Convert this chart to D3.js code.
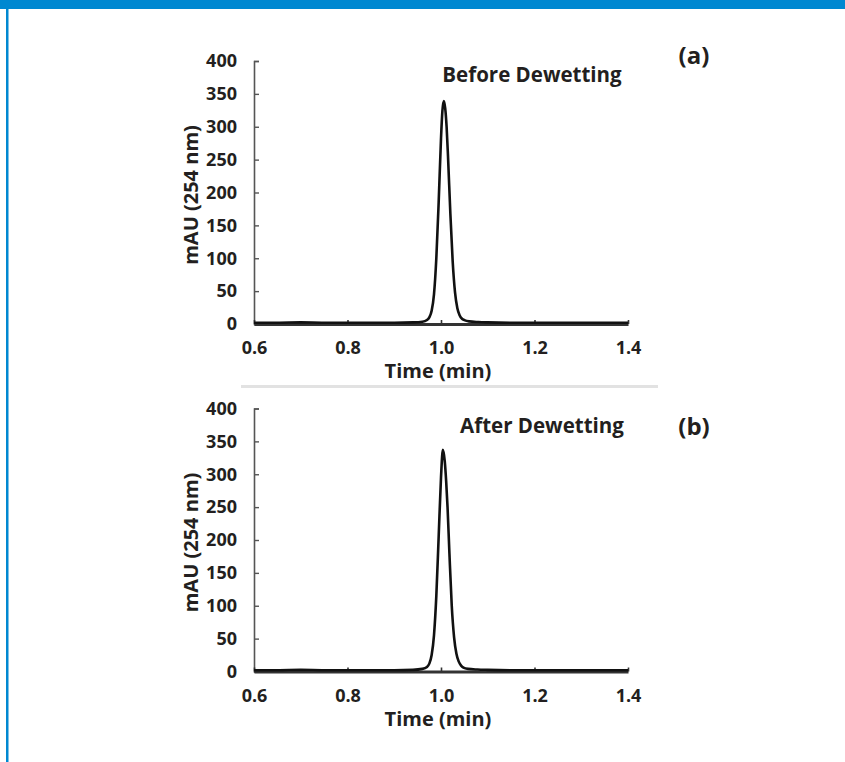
<!DOCTYPE html>
<html>
<head>
<meta charset="utf-8">
<script src="https://cdn.jsdelivr.net/npm/d3@7"></script>
<style>
  body { margin: 0; background: #fff; }
  svg { display: block; }
  text { font-family: "Open Sans", sans-serif; font-weight: bold; fill: #231f20; }
</style>
</head>
<body>
<svg id="chart" width="845" height="762"></svg>
<script>
// chromatogram before dewetting
let timeA = [0.60, 0.65, 0.70, 0.75, 0.80, 0.85, 0.90, 0.94, 0.96, 0.97, 0.975, 0.98, 0.985, 0.99, 0.995,
             1.000, 1.003, 1.006, 1.009, 1.012, 1.015, 1.020, 1.025, 1.030, 1.035, 1.040, 1.045, 1.050,
             1.060, 1.080, 1.100, 1.150, 1.200, 1.300, 1.400];
let mauA = [2, 2, 2.5, 2, 2, 2, 2, 2.5, 3.5, 6, 10, 20, 45, 100, 185,
            282, 324, 339, 328, 300, 255, 168, 95, 48, 24, 13, 8, 6,
            4, 3, 2.5, 2, 2, 2, 2];

// chromatogram after dewetting
let timeB = [0.60, 0.65, 0.70, 0.75, 0.80, 0.85, 0.90, 0.94, 0.96, 0.97, 0.975, 0.98, 0.985, 0.99, 0.995,
             1.000, 1.004, 1.008, 1.011, 1.014, 1.018, 1.023, 1.028, 1.033, 1.038, 1.043, 1.048,
             1.058, 1.078, 1.100, 1.150, 1.200, 1.300, 1.400];
let mauB = [2, 2, 2.5, 2, 2, 2, 2, 2.5, 4, 7, 12, 25, 55, 115, 205,
            295, 337, 320, 290, 250, 180, 100, 52, 27, 15, 9, 6,
            4, 3, 2.5, 2, 2, 2, 2];

let xTicks = [0.6, 0.8, 1.0, 1.2, 1.4];
let yTicks = [0, 50, 100, 150, 200, 250, 300, 350, 400];
let panelTitles = ["Before Dewetting", "After Dewetting"];
let panelLetters = ["(a)", "(b)"];
let xTitle = "Time (min)";
let yTitle = "mAU (254 nm)";

let svg = d3.select("#chart");

// blue frame
svg.append("rect").attr("x", 0).attr("y", 0).attr("width", 845).attr("height", 9).attr("fill", "#0088d1");
svg.append("rect").attr("x", 6).attr("y", 9).attr("width", 2.5).attr("height", 753).attr("fill", "#0088d1");

// separator between panels
svg.append("line")
    .attr("x1", 241).attr("x2", 658)
    .attr("y1", 386.5).attr("y2", 386.5)
    .attr("stroke", "#e2e2e2").attr("stroke-width", 3);

let x = d3.scaleLinear().domain([0.6, 1.4]).range([254, 628]);
let y = d3.scaleLinear().domain([0, 400]).range([324, 61]);

let line = d3.line()
    .x(d => x(d[0]))
    .y(d => y(d[1]))
    .curve(d3.curveMonotoneX);

let drawPanel = function(offset, times, values, title, titleX, titleY, letter, letterY) {
    let g = svg.append("g").attr("transform", "translate(0, " + offset + ")");

    let yAxis = g.append("g")
        .attr("transform", "translate(" + x(0.6) + ", 0)")
        .call(d3.axisLeft(y).tickValues(yTicks).tickSize(-5).tickPadding(17).tickFormat(d3.format("d")));
    yAxis.select(".domain").attr("stroke", "#555").attr("stroke-width", 1.6);
    yAxis.selectAll(".tick line").attr("stroke", "#555").attr("stroke-width", 1.4);
    yAxis.selectAll(".tick text").attr("font-size", 18).attr("fill", "#231f20").attr("font-family", null);

    let xAxis = g.append("g")
        .attr("transform", "translate(0, " + y(0) + ")")
        .call(d3.axisBottom(x).tickValues(xTicks).tickSize(-4).tickPadding(17.5).tickSizeOuter(0).tickFormat(d3.format(".1f")));
    xAxis.select(".domain").attr("stroke", "#333").attr("stroke-width", 3);
    xAxis.selectAll(".tick line").attr("stroke", "#333").attr("stroke-width", 1.6);
    xAxis.selectAll(".tick text").attr("font-size", 18).attr("fill", "#231f20").attr("font-family", null);

    g.append("path")
        .datum(times.map((t, i) => [t, values[i]]))
        .attr("d", line)
        .attr("fill", "none")
        .attr("stroke", "#111")
        .attr("stroke-width", 2.6);

    g.append("text")
        .attr("x", 438).attr("y", 378)
        .attr("text-anchor", "middle")
        .attr("font-size", 20)
        .text(xTitle);

    g.append("text")
        .attr("transform", "translate(198, 195) rotate(-90)")
        .attr("text-anchor", "middle")
        .attr("font-size", 20)
        .text(yTitle);

    g.append("text")
        .attr("x", titleX).attr("y", titleY)
        .attr("text-anchor", "middle")
        .attr("font-size", 20.5)
        .text(title);

    g.append("text")
        .attr("x", 694).attr("y", letterY)
        .attr("text-anchor", "middle")
        .attr("font-size", 24)
        .text(letter);
}

drawPanel(0, timeA, mauA, panelTitles[0], 532, 81.5, panelLetters[0], 64);
drawPanel(347.5, timeB, mauB, panelTitles[1], 542, 85.5, panelLetters[1], 87);
</script>
</body>
</html>
